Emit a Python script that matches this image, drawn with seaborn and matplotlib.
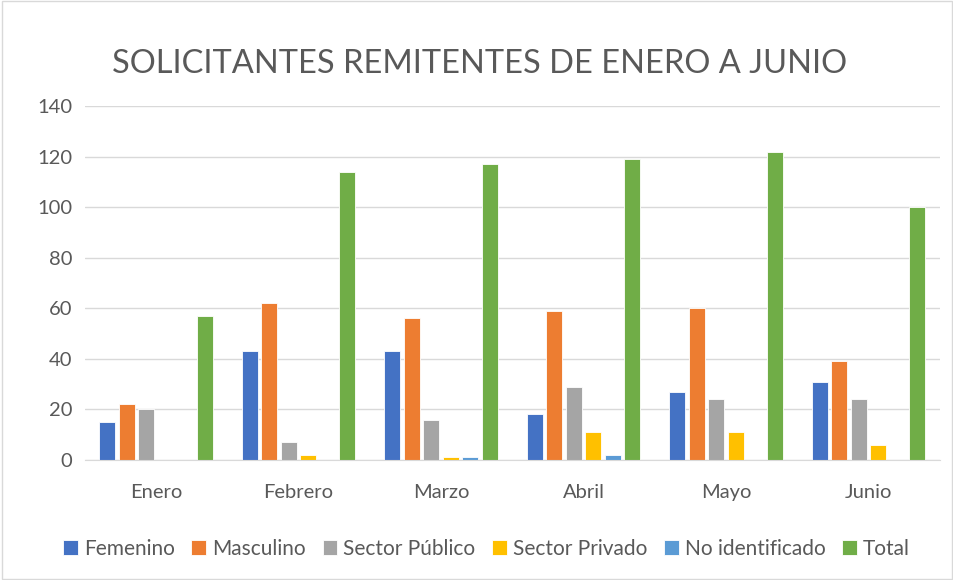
import pandas as pd
import seaborn as sns
import matplotlib.pyplot as plt

# monthly data
meses = ['Enero', 'Febrero', 'Marzo', 'Abril', 'Mayo', 'Junio']
femenino = [15, 43, 43, 18, 27, 31]
masculino = [22, 62, 56, 59, 60, 39]
sector_publico = [20, 7, 16, 29, 24, 24]
sector_privado = [0, 2, 1, 11, 11, 6]
no_identificado = [0, 0, 1, 2, 0, 0]
total = [57, 114, 117, 119, 122, 100]

series = ['Femenino', 'Masculino', 'Sector Público', 'Sector Privado', 'No identificado', 'Total']
colores = ['#4472C4', '#ED7D31', '#A5A5A5', '#FFC000', '#5B9BD5', '#70AD47']

wide = pd.DataFrame({'Mes': meses, 'Femenino': femenino, 'Masculino': masculino,
                     'Sector Público': sector_publico, 'Sector Privado': sector_privado,
                     'No identificado': no_identificado, 'Total': total})
df = wide.melt(id_vars='Mes', var_name='Serie', value_name='Valor')

sns.set_style('white')
plt.rcParams['font.family'] = ['Lato', 'DejaVu Sans']

fig = plt.figure(figsize=(9.54, 5.8), dpi=100)
ax = fig.add_axes([0.089, 0.207, 0.896, 0.61])

sns.barplot(data=df, x='Mes', y='Valor', hue='Serie', hue_order=series,
            palette=colores, width=0.82, gap=0.18, ax=ax,
            edgecolor='white', linewidth=0.6, saturation=1)

ax.set_ylim(0, 140)
ax.set_yticks(range(0, 141, 20))
ax.yaxis.grid(True, color='#D9D9D9', linewidth=1)
ax.set_axisbelow(True)
for s in ['left', 'right', 'top']:
    ax.spines[s].set_visible(False)
ax.spines['bottom'].set_color('#D9D9D9')
ax.set_xlabel('')
ax.set_ylabel('')
ax.tick_params(axis='both', length=0, labelsize=14.5, colors='#595959')
ax.tick_params(axis='x', pad=17)
ax.tick_params(axis='y', pad=9)
ax.set_xlim(-0.5, 5.5)

fig.suptitle('SOLICITANTES REMITENTES DE ENERO A JUNIO', x=0.503, y=0.915,
             fontsize=23.5, color='#595959')

ax.legend(loc='upper center', bbox_to_anchor=(0.47, -0.17), ncol=6, frameon=False,
          fontsize=15, labelcolor='#595959', handlelength=0.7, handleheight=0.7,
          handletextpad=0.3, columnspacing=0.8)

# chart border
fig.patches.append(plt.Rectangle((0.002, 0.002), 0.996, 0.996, transform=fig.transFigure,
                                 fill=False, edgecolor='#D9D9D9', linewidth=1))

fig.savefig('out.png', dpi=100)
